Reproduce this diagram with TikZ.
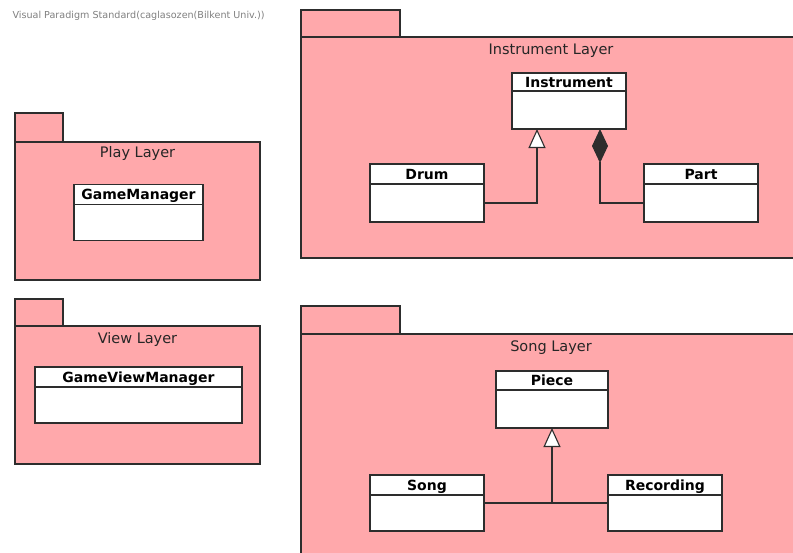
\documentclass[tikz,border=0pt]{standalone}
\usepackage{fontspec}
\setmainfont{DejaVu Sans}
\usetikzlibrary{positioning,arrows.meta}

\definecolor{paketrosa}{RGB}{255,168,171}
\definecolor{linie}{RGB}{45,45,45}

\tikzset{
	paket/.style={draw=linie, fill=paketrosa, line width=1.1pt},
	paketname/.style={anchor=base, font=\fontsize{14.5}{17}\selectfont, text=black!85},
	kopf/.style={draw=linie, fill=white, line width=1.1pt, inner sep=0pt, outer sep=0pt,
		minimum height=20pt, text height=12.5pt, text depth=2.5pt,
		font=\bfseries\fontsize{14}{16}\selectfont},
	rumpf/.style={draw=linie, fill=white, line width=1.1pt, inner sep=0pt, outer sep=0pt,
		minimum height=38pt},
	verbindung/.style={draw=linie, line width=1.1pt},
	erbt/.style={verbindung, -{Triangle[length=19pt, width=17pt, fill=white]}},
	komposition/.style={verbindung, -{Diamond[length=34pt, width=16pt]}},
	wasserzeichen/.style={font=\fontsize{9.6}{11}\selectfont, text=black!50}
}

\begin{document}
\begin{tikzpicture}[x=1pt, y=-1pt]
	\useasboundingbox (0,0) rectangle (793,552);
	\clip (0,0) rectangle (793,552);
	\fill[white] (0,0) rectangle (793,552);

	% Vermerk oben links
	\node[wasserzeichen, anchor=west] (vermerk) at (9,16) {Visual Paradigm Standard(caglasozen(Bilkent Univ.))};

	% Pakete
	\filldraw[paket] (15,113) rectangle (63,142);
	\filldraw[paket] (15,142) rectangle (260,280);
	\node[paketname] (playlayer) at (137.5,157) {Play Layer};

	\filldraw[paket] (15,299) rectangle (63,326);
	\filldraw[paket] (15,326) rectangle (260,464);
	\node[paketname] (viewlayer) at (137.5,343) {View Layer};

	\filldraw[paket] (301,10) rectangle (400,37);
	\filldraw[paket] (301,37) rectangle (810,258);
	\node[paketname] (instrumentlayer) at (551,54) {Instrument Layer};

	\filldraw[paket] (301,306) rectangle (400,334);
	\filldraw[paket] (301,334) rectangle (810,570);
	\node[paketname] (songlayer) at (551,351) {Song Layer};

	% Klassen
	\node[kopf, minimum width=129pt] (gamemanager) at (138.5,194.5) {GameManager};
	\node[rumpf, minimum width=129pt, minimum height=36pt, below=0pt of gamemanager] (gamemanagerbody) {};

	\node[kopf, minimum width=207pt] (gameviewmanager) at (138.5,377) {GameViewManager};
	\node[rumpf, minimum width=207pt, minimum height=36pt, below=0pt of gameviewmanager] (gameviewmanagerbody) {};

	\node[kopf, minimum width=114pt, minimum height=18pt] (instrument) at (569,82) {Instrument};
	\node[rumpf, minimum width=114pt, below=0pt of instrument] (instrumentbody) {};

	\node[kopf, minimum width=114pt] (drum) at (427,174) {Drum};
	\node[rumpf, minimum width=114pt, below=0pt of drum] (drumbody) {};

	\node[kopf, minimum width=114pt] (part) at (701,174) {Part};
	\node[rumpf, minimum width=114pt, below=0pt of part] (partbody) {};

	\node[kopf, minimum width=112pt, minimum height=19pt] (piece) at (552,380.5) {Piece};
	\node[rumpf, minimum width=112pt, below=0pt of piece] (piecebody) {};

	\node[kopf, minimum width=114pt] (song) at (427,485) {Song};
	\node[rumpf, minimum width=114pt, minimum height=36pt, below=0pt of song] (songbody) {};

	\node[kopf, minimum width=114pt] (recording) at (665,485) {Recording};
	\node[rumpf, minimum width=114pt, minimum height=36pt, below=0pt of recording] (recordingbody) {};

	% Beziehungen Instrument Layer
	\coordinate (instgen) at ([xshift=-32pt]instrumentbody.south);
	\coordinate (instkomp) at ([xshift=31pt]instrumentbody.south);
	\draw[erbt] (drumbody.east) -| (instgen);
	\draw[komposition] (partbody.west) -| (instkomp);

	% Beziehungen Song Layer
	\coordinate (songverb) at ([yshift=10pt]songbody.east);
	\draw[verbindung] (songverb) -- (songverb -| recordingbody.west);
	\draw[erbt] (piecebody.south |- songverb) -- (piecebody.south);
\end{tikzpicture}
\end{document}
